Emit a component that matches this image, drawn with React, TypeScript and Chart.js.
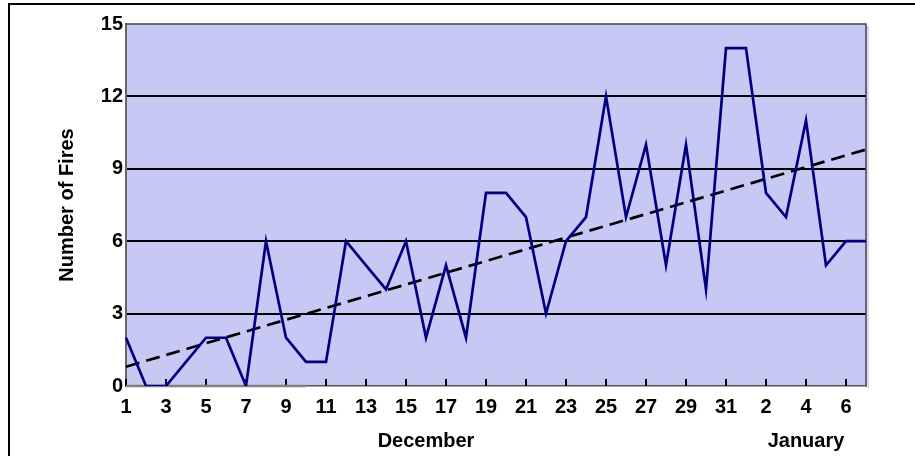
import React, { useEffect, useRef } from 'react';
import { Chart, registerables } from 'chart.js';

Chart.register(...registerables);

// Day-of-month categories: December 1–31, then January 1–7
const dayLabels = [
  '1', '2', '3', '4', '5', '6', '7', '8', '9', '10',
  '11', '12', '13', '14', '15', '16', '17', '18', '19', '20',
  '21', '22', '23', '24', '25', '26', '27', '28', '29', '30', '31',
  '1', '2', '3', '4', '5', '6', '7',
];
const monthNames = ['December', 'January'];
const monthFirstIndex = [0, 31];
const monthLastIndex = [30, 37];

// Number of fires per day
const fires = [
  2, 0, 0, 1, 2, 2, 0, 6, 2, 1,
  1, 6, 5, 4, 6, 2, 5, 2, 8, 8,
  7, 3, 6, 7, 12, 7, 10, 5, 10, 4, 14,
  14, 8, 7, 11, 5, 6, 6,
];
// Faint second series along the floor (first ten days)
const otherSeries = [0, 0, 0, 0, 0, 0, 0, 0, 0, 0];
// Linear trend line: value at first and last day
const trendEnds = [0.8, 9.8];

const yMin = 0;
const yMax = 15;
const yStep = 3;

const FONT = 'Arial, "Liberation Sans", sans-serif';
const FSIZE = 20;

const decorPlugin = {
  id: 'decor',
  beforeDraw(chart: any) {
    const { ctx, chartArea: a } = chart;
    ctx.save();
    ctx.fillStyle = '#D6D6F6';
    ctx.fillRect(a.right, a.top + 2, 3, a.bottom - a.top);
    ctx.fillStyle = '#C8C8F4';
    ctx.fillRect(a.left, a.top, a.right - a.left, a.bottom - a.top);
    ctx.restore();
  },
  beforeDatasetsDraw(chart: any) {
    const { ctx, chartArea: a, scales } = chart;
    const xs = scales.x;
    ctx.save();
    ctx.strokeStyle = '#444';
    ctx.lineWidth = 1.5;
    ctx.beginPath();
    ctx.moveTo(a.left, a.top);
    ctx.lineTo(a.right, a.top);
    ctx.lineTo(a.right, a.bottom);
    ctx.stroke();
    ctx.strokeStyle = '#000';
    ctx.lineWidth = 2;
    ctx.beginPath();
    for (let i = 0; i < dayLabels.length; i += 2) {
      const x = Math.round(xs.getPixelForValue(i));
      ctx.moveTo(x, a.bottom);
      ctx.lineTo(x, a.bottom - 7);
    }
    ctx.stroke();
    ctx.restore();
  },
  afterDraw(chart: any) {
    const { ctx, chartArea: a, scales } = chart;
    const xs = scales.x;
    ctx.save();
    ctx.font = 'bold ' + FSIZE + 'px ' + FONT;
    ctx.fillStyle = '#000';
    ctx.textAlign = 'center';
    ctx.textBaseline = 'alphabetic';
    monthNames.forEach((name, k) => {
      const x0 = xs.getPixelForValue(monthFirstIndex[k]);
      const x1 = xs.getPixelForValue(monthLastIndex[k]);
      ctx.fillText(name, (x0 + x1) / 2, a.bottom + 61);
    });
    ctx.restore();
  },
};

export default function App() {
  const canvasRef = useRef<HTMLCanvasElement | null>(null);

  useEffect(() => {
    const canvas = canvasRef.current;
    if (!canvas) return;
    const lastIndex = dayLabels.length - 1;
    const trendData: (number | null)[] = dayLabels.map(() => null);
    trendData[0] = trendEnds[0];
    trendData[lastIndex] = trendEnds[1];
    const chart = new Chart(canvas, {
      type: 'line',
      data: {
        labels: dayLabels,
        datasets: [
          {
            label: 'Fires',
            data: fires,
            borderColor: '#000080',
            borderWidth: 2.7,
            pointRadius: 0,
            tension: 0,
            borderJoinStyle: 'miter',
            fill: false,
          },
          {
            label: 'Trend',
            data: trendData,
            spanGaps: true,
            borderColor: '#000',
            borderWidth: 2.7,
            borderDash: [14, 7],
            pointRadius: 0,
            tension: 0,
            fill: false,
          },
          {
            label: 'Other',
            data: otherSeries,
            borderColor: '#808080',
            borderWidth: 2.5,
            pointRadius: 0,
            tension: 0,
            fill: false,
            clip: false,
          },
        ],
      } as any,
      options: {
        animation: false,
        responsive: false,
        devicePixelRatio: 1,
        layout: { padding: { left: 0, top: 24, right: 49, bottom: 0 } },
        plugins: {
          legend: { display: false },
          tooltip: { enabled: false },
          title: { display: false },
        },
        scales: {
          x: {
            type: 'category',
            offset: false,
            grid: { display: false, drawTicks: false },
            border: { display: true, color: '#555', width: 1.5 },
            ticks: {
              autoSkip: false,
              maxRotation: 0,
              minRotation: 0,
              padding: 9,
              color: '#000',
              font: { family: FONT, size: FSIZE, weight: 'bold' },
              callback: (_v: any, i: number) => (i % 2 === 0 ? dayLabels[i] : ''),
            },
            afterFit: (s: any) => {
              s.height = 70;
            },
          },
          y: {
            min: yMin,
            max: yMax,
            grid: {
              drawTicks: false,
              lineWidth: 2,
              color: (c: any) =>
                c.tick && (c.tick.value === yMin || c.tick.value === yMax) ? 'rgba(0,0,0,0)' : '#000',
            },
            border: { display: true, color: '#666', width: 2 },
            ticks: {
              stepSize: yStep,
              padding: 3,
              color: '#000',
              font: { family: FONT, size: FSIZE, weight: 'bold' },
            },
            title: {
              display: true,
              text: 'Number of Fires',
              color: '#000',
              font: { family: FONT, size: FSIZE, weight: 'bold' },
              padding: { top: 55, bottom: 0 },
            },
            afterFit: (s: any) => {
              s.width = 126;
            },
          },
        },
      } as any,
      plugins: [decorPlugin],
    });
    return () => chart.destroy();
  }, []);

  return (
    <div
      style={{
        position: 'absolute',
        left: 0,
        top: 0,
        width: 915,
        height: 456,
        overflow: 'hidden',
        background: '#fff',
      }}
    >
      <div
        style={{
          position: 'absolute',
          left: 8,
          top: 3,
          width: 1200,
          height: 1200,
          border: '2px solid #000',
          boxSizing: 'border-box',
        }}
      />
      <canvas
        ref={canvasRef}
        width={915}
        height={456}
        style={{ position: 'absolute', left: 0, top: 0, width: 915, height: 456, display: 'block' }}
      />
    </div>
  );
}
